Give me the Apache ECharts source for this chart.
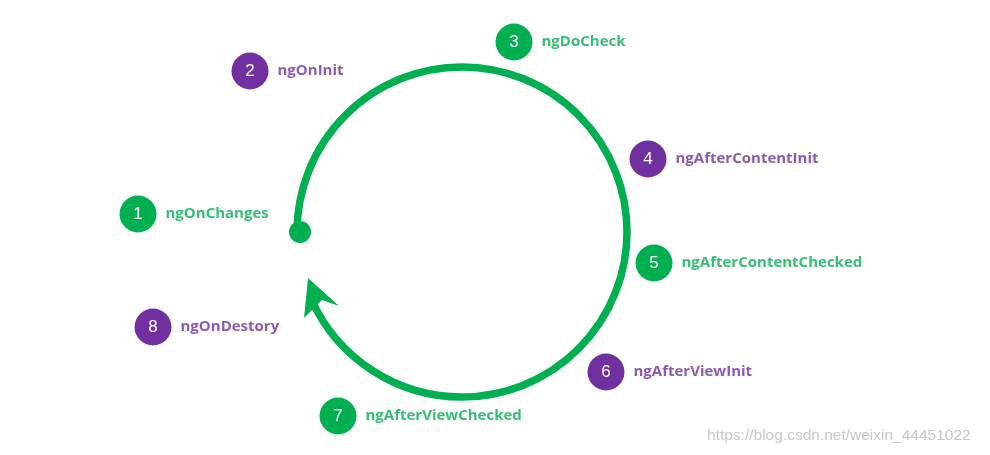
<!DOCTYPE html>
<html><head><meta charset="utf-8">
<script src="https://cdn.jsdelivr.net/npm/echarts@6/dist/echarts.min.js"></script>
<style>html,body{margin:0;padding:0;background:#fff}#c{width:990px;height:455px}</style>
</head><body><div id="c"></div>
<script>
// lifecycle hooks, in call order
const hooks = ['ngOnChanges','ngOnInit','ngDoCheck','ngAfterContentInit','ngAfterContentChecked','ngAfterViewInit','ngAfterViewChecked','ngOnDestory']
const steps = ['1','2','3','4','5','6','7','8']
const kinds = ['green','purple','green','purple','green','purple','green','purple']
const nodeX = [138, 250, 514, 648, 654, 606, 338, 153]
const nodeY = [214, 71, 42, 159, 263, 372, 416, 327]

const GREEN = '#00b050', PURPLE = '#7030a0'
const col = i => kinds[i] === 'green' ? GREEN : PURPLE

const dots = hooks.map((h, i) => ({
  value: [nodeX[i], nodeY[i]], name: h, step: steps[i],
  itemStyle: { color: col(i), opacity: 1 }
}))
const names = hooks.map((h, i) => ({
  value: [nodeX[i], nodeY[i]], name: h,
  label: { color: col(i) }
}))

const chart = echarts.init(document.getElementById('c'))
chart.setOption({
  animation: false,
  grid: { left: 0, right: 0, top: 0, bottom: 0 },
  xAxis: { type: 'value', min: 0, max: 990, show: false },
  yAxis: { type: 'value', min: 0, max: 455, inverse: true, show: false },
  graphic: [
    { type: 'arc', shape: { cx: 462, cy: 232, r: 165, startAngle: Math.PI, endAngle: Math.PI * 2 + 2.72, clockwise: true },
      style: { stroke: GREEN, lineWidth: 7.5, fill: null } },
    { type: 'circle', shape: { cx: 300, cy: 232, r: 11 }, style: { fill: GREEN } },
    { type: 'polygon', shape: { points: [[308, 278], [339, 306], [322, 300], [304, 318]] }, style: { fill: GREEN } },
    { type: 'text', left: 707, top: 428, style: { text: 'https://blog.csdn.net/weixin_44451022', fill: '#c8c8c8', font: '15.5px "Liberation Sans", Arial' } }
  ],
  series: [
    { type: 'scatter', symbolSize: 37, data: dots, z: 3,
      label: { show: true, position: 'inside', formatter: p => p.data.step, color: '#fff', fontSize: 17, fontFamily: 'Liberation Sans' } },
    { type: 'scatter', symbolSize: 37, itemStyle: { color: 'rgba(0,0,0,0)' }, data: names, z: 2,
      emphasis: { disabled: true },
      label: { show: true, position: 'right', distance: 9, formatter: p => p.name, fontSize: 15, fontWeight: 'bold', fontFamily: 'Open Sans' } }
  ]
})
</script></body></html>
